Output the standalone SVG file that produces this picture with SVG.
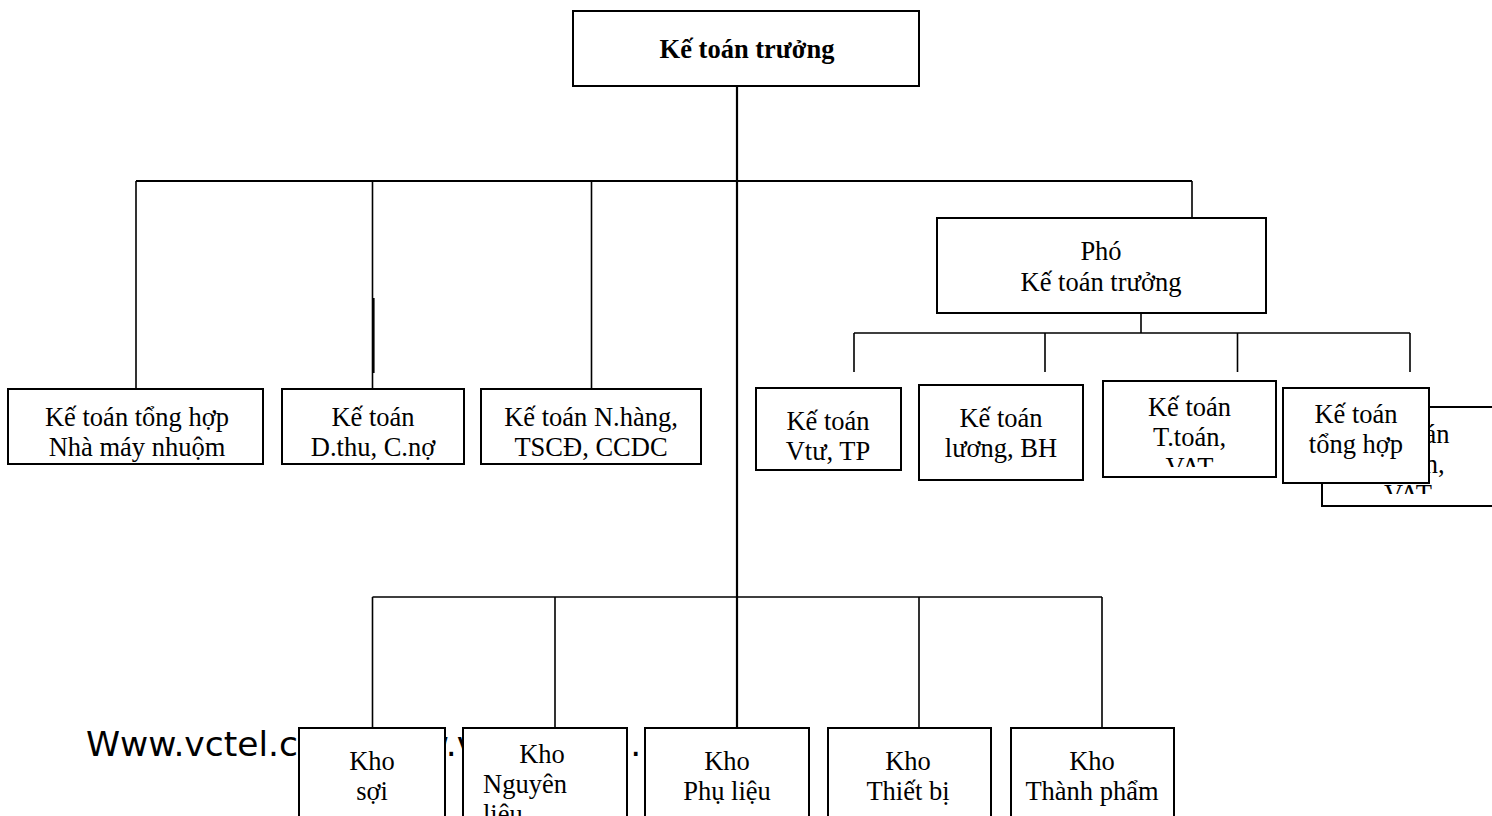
<svg xmlns="http://www.w3.org/2000/svg" width="1492" height="816" viewBox="0 0 1492 816">
<style>
.bx{fill:#fff;stroke:#000;stroke-width:2}
.ln{fill:none;stroke:#000;stroke-width:1.6}
.lk{fill:none;stroke:#000;stroke-width:2.2}
.t{font-family:"Liberation Serif","Times New Roman",serif;font-size:26.5px;fill:#000;text-anchor:middle}
.s{text-anchor:start}
.b{font-weight:bold}
.wm{font-family:"DejaVu Sans",Verdana,sans-serif;font-size:34.5px;fill:#000}
</style>
<defs>
<clipPath id="c1"><rect x="1104" y="382" width="171" height="85"/></clipPath>
<clipPath id="c2"><rect x="1323" y="408" width="170" height="86"/></clipPath>
</defs>
<rect width="1492" height="816" fill="#fff"/>
<g id="connectors">
<path class="lk" d="M737,86V728M136,181H1192"/>
<path class="ln" d="M136,181V389M372.5,181V389M591.5,181V389M1192,181V218"/>
<path class="ln" d="M373.8,298V373"/>
<path class="ln" d="M1141,313V333M854,333H1410M854,333V372M1045,333V372M1237.5,333V372M1410,333V372"/>
<path class="ln" d="M372.5,597H1102M372.5,597V728M555,597V728M919,597V728M1102,597V728"/>
</g>
<g id="n-ketoantruong">
<rect class="bx" x="573" y="11" width="346" height="75"/>
<text class="t b" x="747" y="58">Kế toán trưởng</text>
</g>
<g id="n-pho">
<rect class="bx" x="937" y="218" width="329" height="95"/>
<text class="t" x="1101" y="260">Phó</text>
<text class="t" x="1101" y="291">Kế toán trưởng</text>
</g>
<g id="n-tonghop-nm">
<rect class="bx" x="8" y="389" width="255" height="75"/>
<text class="t" x="137" y="426">Kế toán tổng hợp</text>
<text class="t" x="137" y="456">Nhà máy nhuộm</text>
</g>
<g id="n-dthu">
<rect class="bx" x="282" y="389" width="182" height="75"/>
<text class="t" x="373" y="426">Kế toán</text>
<text class="t" x="373" y="456">D.thu, C.nợ</text>
</g>
<g id="n-nhang">
<rect class="bx" x="481" y="389" width="220" height="75"/>
<text class="t" x="591" y="426">Kế toán N.hàng,</text>
<text class="t" x="591" y="456">TSCĐ, CCDC</text>
</g>
<g id="n-vtu">
<rect class="bx" x="756" y="388" width="145" height="82"/>
<text class="t" x="828" y="430">Kế toán</text>
<text class="t" x="828" y="460">Vtư, TP</text>
</g>
<g id="n-luong">
<rect class="bx" x="919" y="385" width="164" height="95"/>
<text class="t" x="1001" y="427">Kế toán</text>
<text class="t" x="1001" y="457">lương, BH</text>
</g>
<g id="n-ttoan">
<rect class="bx" x="1103" y="381" width="173" height="96"/>
<g clip-path="url(#c1)">
<text class="t" x="1189.5" y="416">Kế toán</text>
<text class="t" x="1189.5" y="446">T.toán,</text>
<text class="t" x="1189.5" y="476">VAT</text>
</g>
</g>
<g id="n-ttoan-2">
<rect class="bx" x="1322" y="407" width="180" height="99"/>
<g clip-path="url(#c2)">
<text class="t" x="1408" y="443">Kế toán</text>
<text class="t" x="1408" y="473">T.toán,</text>
<text class="t" x="1408" y="503">VAT</text>
</g>
</g>
<g id="n-tonghop">
<rect class="bx" x="1283" y="388" width="146" height="95"/>
<text class="t" x="1356" y="423">Kế toán</text>
<text class="t" x="1356" y="453">tổng hợp</text>
</g>
<text class="wm" x="86" y="756">Www.vctel.com/www.vctel.<tspan dx="5">com.</tspan></text>
<g id="n-khosoi">
<rect class="bx" x="299" y="728" width="146" height="120"/>
<text class="t" x="372" y="770">Kho</text>
<text class="t" x="372" y="800">sợi</text>
</g>
<g id="n-khonl">
<rect class="bx" x="463" y="728" width="164" height="120"/>
<text class="t" x="542" y="763">Kho</text>
<text class="t s" x="483" y="793">Nguyên</text>
<text class="t s" x="483" y="823">liệu</text>
</g>
<g id="n-khopl">
<rect class="bx" x="645" y="728" width="164" height="120"/>
<text class="t" x="727" y="770">Kho</text>
<text class="t" x="727" y="800">Phụ liệu</text>
</g>
<g id="n-khotb">
<rect class="bx" x="828" y="728" width="163" height="120"/>
<text class="t" x="908" y="770">Kho</text>
<text class="t" x="908" y="800">Thiết bị</text>
</g>
<g id="n-khotp">
<rect class="bx" x="1011" y="728" width="163" height="120"/>
<text class="t" x="1092" y="770">Kho</text>
<text class="t" x="1092" y="800">Thành phẩm</text>
</g>
</svg>
